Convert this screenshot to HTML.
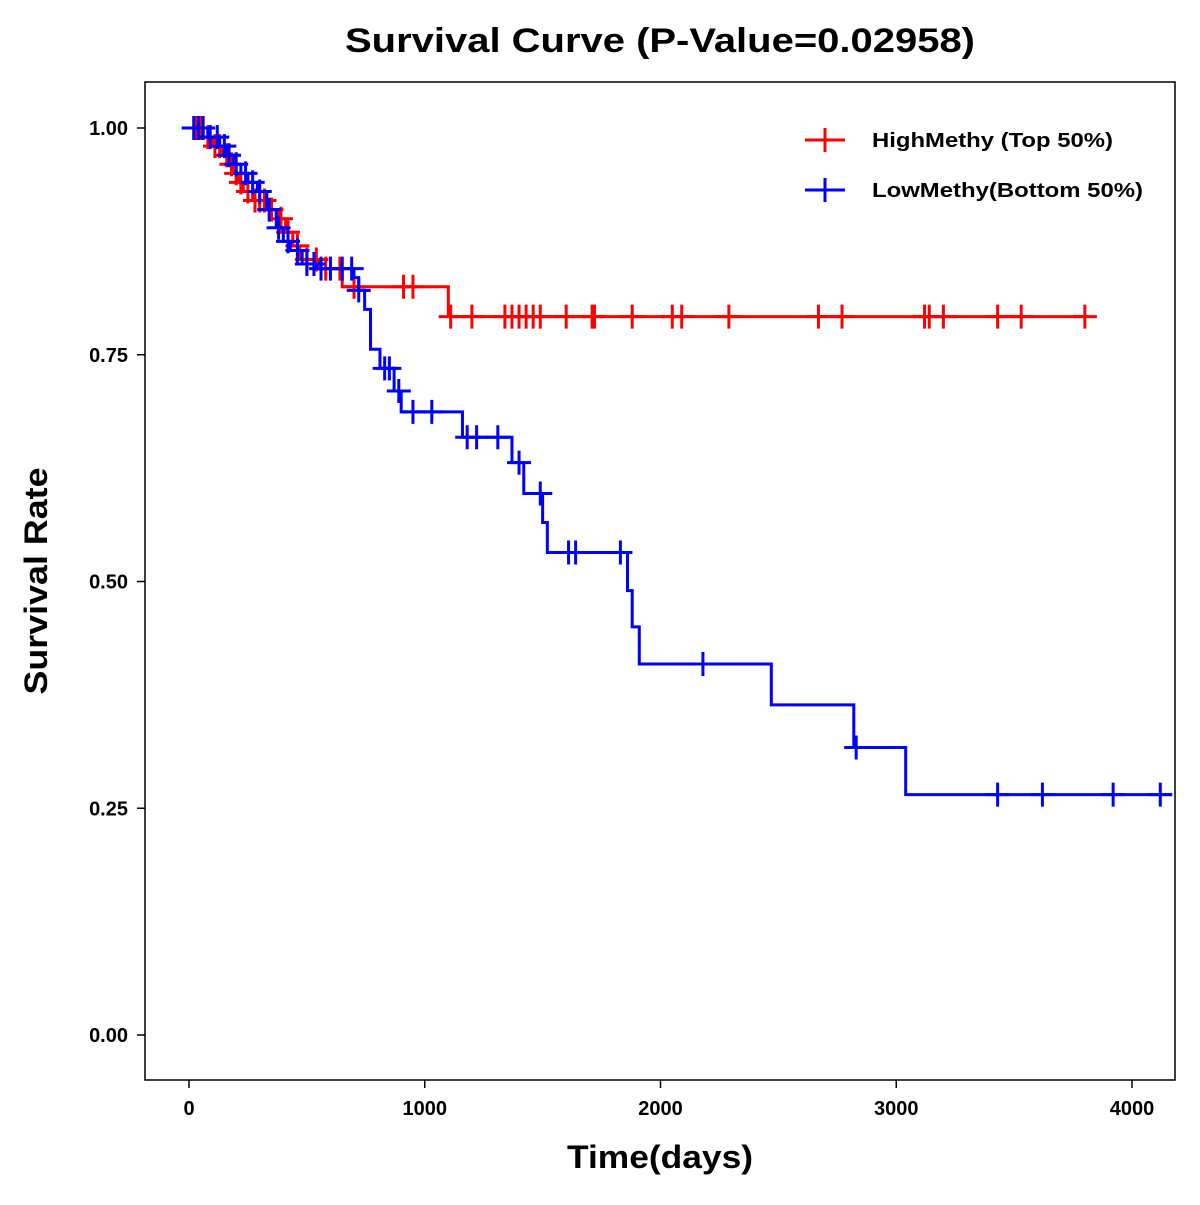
<!DOCTYPE html>
<html><head><meta charset="utf-8"><style>
body{margin:0;background:#fff}
svg text{font-family:"Liberation Sans",Arial,sans-serif;font-weight:bold}
</style></head><body>
<svg id="chart" width="1200" height="1200" viewBox="0 0 1200 1200" xmlns="http://www.w3.org/2000/svg">
<rect width="1200" height="1200" fill="#fff"/>
<text x="660" y="52" font-size="34" text-anchor="middle" textLength="630" lengthAdjust="spacingAndGlyphs">Survival Curve (P-Value=0.02958)</text>
<rect x="145" y="82" width="1030" height="998" fill="none" stroke="#000" stroke-width="1.5"/>
<g id="axes"></g>
<g id="series"></g>
<text x="660" y="1168" font-size="32" text-anchor="middle" textLength="186" lengthAdjust="spacingAndGlyphs">Time(days)</text>
<text transform="translate(47,581) rotate(-90)" font-size="32" text-anchor="middle" textLength="227" lengthAdjust="spacingAndGlyphs">Survival Rate</text>
<g>
<g>
<line x1="805" y1="140" x2="845" y2="140" stroke="#f00" stroke-width="3"/>
<line x1="825" y1="128" x2="825" y2="152" stroke="#f00" stroke-width="3"/>
<text x="872" y="147" font-size="20" textLength="241" lengthAdjust="spacingAndGlyphs">HighMethy (Top 50%)</text></g>
<g>
<line x1="805" y1="190" x2="845" y2="190" stroke="#00f" stroke-width="3"/>
<line x1="825" y1="178" x2="825" y2="202" stroke="#00f" stroke-width="3"/>
<text x="872" y="197" font-size="20" textLength="271" lengthAdjust="spacingAndGlyphs">LowMethy(Bottom 50%)</text></g>
</g>
</svg>
<script>
const xTicks=[0,1000,2000,3000,4000];
const yTicks=[0,0.25,0.5,0.75,1.0];
const yTickLabels=["0.00","0.25","0.50","0.75","1.00"];
const highTimes=[0,60,100,140,170,190,210,230,270,330,380,410,440,470,550,650,1100];
const highSurv=[1,0.99,0.98,0.97,0.96,0.95,0.94,0.93,0.92,0.91,0.90,0.885,0.87,0.855,0.845,0.825,0.792];
const highEnd=3800;
const highCensor=[30,50,80,110,130,160,180,200,220,250,280,300,320,350,390,420,460,500,540,580,640,700,910,950,1110,1200,1340,1370,1400,1430,1460,1490,1600,1710,1720,1880,2050,2090,2290,2670,2770,3120,3140,3200,3430,3530,3800];
const lowTimes=[0,80,130,160,190,220,250,290,330,370,400,430,480,540,700,720,745,770,810,870,900,1160,1370,1420,1500,1520,1860,1880,1910,2470,2820,3040];
const lowSurv=[1,0.99,0.98,0.97,0.96,0.95,0.94,0.93,0.91,0.89,0.875,0.865,0.85,0.845,0.835,0.821,0.80,0.756,0.735,0.71,0.687,0.659,0.631,0.597,0.565,0.532,0.49,0.45,0.409,0.364,0.317,0.265];
const lowEnd=4170;
const lowCensor=[20,40,60,90,120,150,170,200,240,270,300,340,380,420,460,500,530,560,600,650,690,720,830,850,890,950,1030,1180,1220,1310,1400,1490,1610,1640,1830,2180,2830,3430,3620,3920,4120];

const NS="http://www.w3.org/2000/svg";
const xs=t=>189+t*0.23575;
const ys=v=>1035-v*907;
function mk(tag,attrs,parent){const e=document.createElementNS(NS,tag);for(const k in attrs)e.setAttribute(k,attrs[k]);parent.appendChild(e);return e;}
const axes=document.getElementById('axes');
xTicks.forEach(t=>{
  const l=mk('line',{x1:xs(t),x2:xs(t),y1:1080,y2:1088,stroke:'#000','stroke-width':1.5},axes);
  
  
  const tx=mk('text',{x:xs(t),y:1115,'font-size':20,'text-anchor':'middle'},axes);tx.textContent=t;
  
  
});
yTicks.forEach((v,i)=>{
  const l=mk('line',{x1:137,x2:145,y1:ys(v),y2:ys(v),stroke:'#000','stroke-width':1.5},axes);
  
  
  const tx=mk('text',{x:128,y:ys(v)+7,'font-size':20,'text-anchor':'end'},axes);tx.textContent=yTickLabels[i];
  
  
});
const series=document.getElementById('series');
function sAt(times,surv,t){let v=surv[0];for(let i=0;i<times.length;i++){if(times[i]<=t)v=surv[i];}return v;}
function draw(times,surv,end,cens,color,name){
  let d='M'+xs(times[0])+','+ys(surv[0]);
  for(let i=1;i<times.length;i++){d+=' H'+xs(times[i])+' V'+ys(surv[i]);}
  d+=' H'+xs(end);
  const p=mk('path',{d:d,fill:'none',stroke:color,'stroke-width':3},series);
  
  
  cens.forEach(t=>{
    const x=xs(t),y=ys(sAt(times,surv,t));
    const g=mk('path',{d:`M${x-12},${y} H${x+12} M${x},${y-12} V${y+12}`,stroke:color,'stroke-width':3,fill:'none'},series);
    
    
  });
}
draw(highTimes,highSurv,highEnd,highCensor,'#f00','high-methy');
draw(lowTimes,lowSurv,lowEnd,lowCensor,'#00f','low-methy');
</script>
</body></html>
